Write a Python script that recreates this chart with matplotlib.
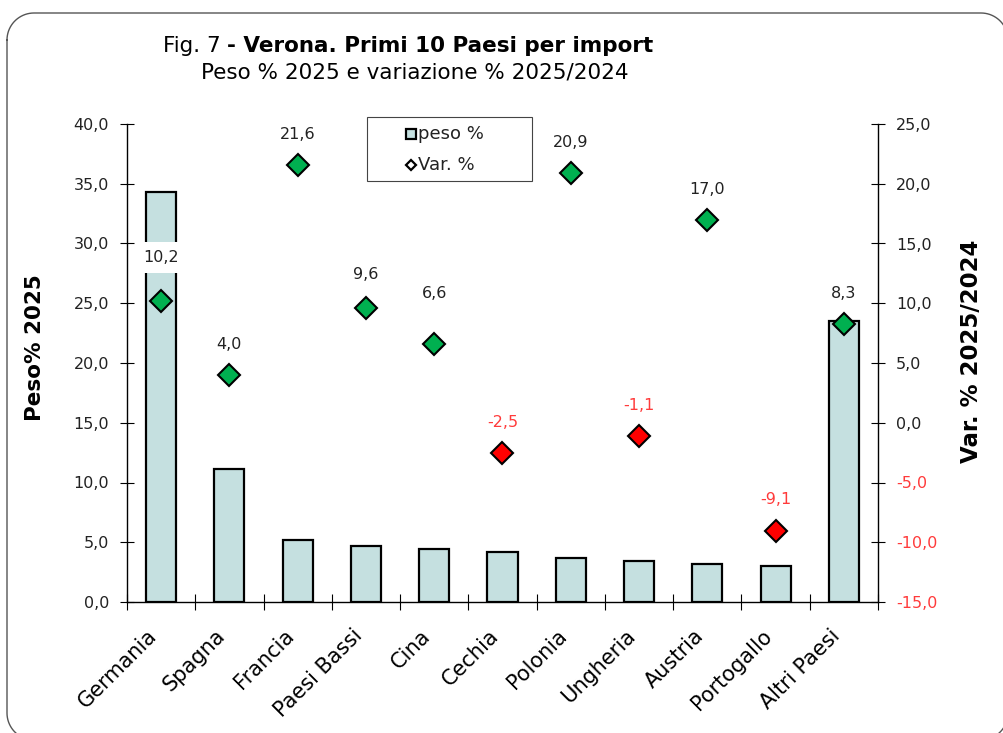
import matplotlib
matplotlib.use("Agg")
import numpy as np
import matplotlib.pyplot as plt
from matplotlib.patches import Rectangle
from matplotlib.lines import Line2D
from matplotlib.ticker import FuncFormatter, FixedLocator
from matplotlib.transforms import ScaledTranslation

categories = ["Germania", "Spagna", "Francia", "Paesi Bassi", "Cina", "Cechia",
              "Polonia", "Ungheria", "Austria", "Portogallo", "Altri Paesi"]
peso = [34.3, 11.1, 5.2, 4.7, 4.4, 4.2, 3.7, 3.4, 3.2, 3.0, 23.5]
var = [10.2, 4.0, 21.6, 9.6, 6.6, -2.5, 20.9, -1.1, 17.0, -9.1, 8.3]

# label offsets (points above marker) — style only
label_dy = [31, 22, 22, 24, 36, 22, 22, 22, 22, 23, 22]

bar_color = "#C5E0E0"
green = "#00B050"
red = "#FF0000"
red_txt = "#FF3B3B"
txt_col = "#222222"

plt.rcParams['font.family'] = ['DejaVu Sans']

W, H = 1004, 733
fig = plt.figure(figsize=(W / 100, H / 100), dpi=100)


def fx(px):
    return px / W


def fy(py):
    return 1 - py / H


# rounded border drawn in pixel space
Lb, Tb, Rb, Bb, rr = 7, 13, 1008, 740, 27
pts = []
for (cx, cy, a0, a1) in [(Lb + rr, Tb + rr, 180, 270), (Rb - rr, Tb + rr, 270, 360),
                         (Rb - rr, Bb - rr, 0, 90), (Lb + rr, Bb - rr, 90, 180)]:
    t = np.radians(np.linspace(a0, a1, 20))
    for tt in t:
        pts.append((cx + rr * np.cos(tt), cy + rr * np.sin(tt)))
pts.append(pts[0])
bx = [fx(p[0]) for p in pts]
by = [fy(p[1]) for p in pts]
fig.add_artist(Line2D(bx, by, color="#555555", linewidth=1.0, transform=fig.transFigure))

ax = fig.add_axes([fx(127), fy(602), fx(878) - fx(127), fy(124) - fy(602)])
x = list(range(len(categories)))
ax.bar(x, peso, width=0.44, color=bar_color, edgecolor="black", linewidth=1.6, zorder=2)
ax.set_xlim(-0.5, len(categories) - 0.5)
ax.set_ylim(0, 40)
ax.set_yticks([0, 5, 10, 15, 20, 25, 30, 35, 40])
fmt = FuncFormatter(lambda v, p: f"{v:.1f}".replace(".", ","))
ax.yaxis.set_major_formatter(fmt)
ax.tick_params(axis='y', direction='inout', length=10, width=0.8, labelsize=11.5,
               labelcolor=txt_col, pad=8)
ax.set_xticks(x)
ax.set_xticklabels(categories, rotation=45, ha='right', va='center',
                   rotation_mode='anchor', fontsize=15)
ax.tick_params(axis='x', which='major', length=0, pad=22)
shift = ScaledTranslation(-0.07, 0.0, fig.dpi_scale_trans)
for lbl in ax.get_xticklabels():
    lbl.set_transform(lbl.get_transform() + shift)
ax.xaxis.set_minor_locator(FixedLocator([i - 0.5 for i in range(len(categories) + 1)]))
ax.tick_params(axis='x', which='minor', direction='inout', length=12, width=0.8)
ax.spines['top'].set_visible(False)
ax.spines['right'].set_visible(False)
ax.spines['left'].set_linewidth(1.0)
ax.spines['bottom'].set_linewidth(1.0)

ax2 = ax.twinx()
ax2.set_ylim(-15, 25)
ax2.set_yticks([-15, -10, -5, 0, 5, 10, 15, 20, 25])
ax2.yaxis.set_major_formatter(fmt)
ax2.tick_params(axis='y', direction='inout', length=10, width=0.8, labelsize=11.5, pad=8)
for lbl, v in zip(ax2.get_yticklabels(), ax2.get_yticks()):
    lbl.set_color(red_txt if v < 0 else txt_col)
ax2.spines['top'].set_visible(False)
ax2.spines['left'].set_visible(False)
ax2.spines['bottom'].set_visible(False)
ax2.spines['right'].set_linewidth(1.0)

cols = [green if v >= 0 else red for v in var]
for xi, v, c, dy in zip(x, var, cols, label_dy):
    ax2.plot([xi], [v], marker='D', markersize=11, markerfacecolor=c,
             markeredgecolor='black', markeredgewidth=1.5, linestyle='none', zorder=4)
    ax2.annotate(f"{v:.1f}".replace(".", ","), (xi, v), xytext=(0, dy),
                 textcoords='offset points', ha='center', va='center', fontsize=11.5,
                 color=red_txt if v < 0 else txt_col, zorder=5,
                 bbox=dict(boxstyle='square,pad=0.5', facecolor='white', edgecolor='none'))

# axis titles
fig.text(fx(35), fy(348), "Peso% 2025", rotation=90, ha='center', va='center',
         fontsize=15.5, fontweight='bold')
fig.text(fx(972), fy(351), "Var. % 2025/2024", rotation=90, ha='center', va='center',
         fontsize=16.5, fontweight='bold')

# legend drawn manually
fig.add_artist(Rectangle((fx(367), fy(181)), fx(532) - fx(367), fy(117) - fy(181),
                         transform=fig.transFigure, facecolor='white',
                         edgecolor='#444444', linewidth=0.8, zorder=6))
fig.add_artist(Line2D([fx(411)], [fy(134)], marker='s', markersize=7.5,
                      markerfacecolor=bar_color, markeredgecolor='black',
                      markeredgewidth=1.6, linestyle='none', transform=fig.transFigure, zorder=7))
fig.add_artist(Line2D([fx(411)], [fy(165)], marker='D', markersize=5,
                      markerfacecolor='white', markeredgecolor='black',
                      markeredgewidth=1.6, linestyle='none', transform=fig.transFigure, zorder=7))
fig.text(fx(418), fy(134), "peso %", ha='left', va='center', fontsize=13, color=txt_col, zorder=8)
fig.text(fx(418), fy(165), "Var. %", ha='left', va='center', fontsize=13, color=txt_col, zorder=8)

# titles
fig.text(fx(163), fy(46), "Fig. 7 ", ha='left', va='center', fontsize=15.5)
fig.text(fx(227), fy(46), "- Verona. Primi 10 Paesi per import", ha='left', va='center',
         fontsize=15.5, fontweight='bold')
fig.text(fx(415), fy(73), "Peso % 2025 e variazione % 2025/2024", ha='center', va='center',
         fontsize=15.5)

fig.savefig("out.png", dpi=100)
